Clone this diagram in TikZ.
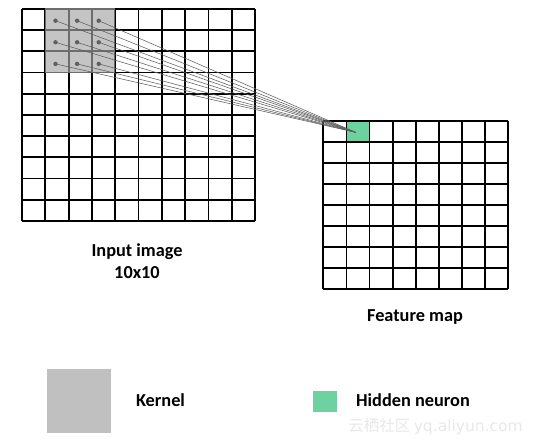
\documentclass[tikz,border=0pt]{standalone}
\usepackage{fontspec}
\setmainfont{Carlito}
\newfontfamily\cjkwm{Noto Sans CJK SC}
\definecolor{kernelgray}{RGB}{166,166,166}
\definecolor{legendgray}{RGB}{192,192,192}
\definecolor{neurongreen}{RGB}{110,210,160}
\definecolor{linkgray}{RGB}{95,95,95}
\definecolor{wmgray}{RGB}{232,232,232}
\begin{document}
\begin{tikzpicture}[x=1pt,y=-1pt,
  gridline/.style={line width=1.8pt,black},
  dotnode/.style={circle,fill=linkgray,draw=none,inner sep=0pt,minimum size=4.4pt},
  link/.style={linkgray,line width=0.55pt},
  lbl/.style={font=\bfseries\fontsize{18.3}{21}\selectfont,anchor=base,inner sep=0pt}]
\useasboundingbox (0,0) rectangle (534,446);
% ---- feature map green cell
\fill[neurongreen] (346.4,120.7) rectangle (369.5,141.7);
% ---- input grid 10x10
\foreach \i in {0,...,10} {
  \draw[gridline] ({22+23.3*\i},9) -- ({22+23.3*\i},221);
  \draw[gridline] (22,{9+21.2*\i}) -- (255,{9+21.2*\i});
}
% ---- feature map grid 8x8
\foreach \i in {0,...,8} {
  \draw[gridline] ({323.3+23.1*\i},120.7) -- ({323.3+23.1*\i},288.7);
  \draw[gridline] (323.3,{120.7+21*\i}) -- (508.1,{120.7+21*\i});
}
% ---- kernel overlay
\fill[kernelgray,fill opacity=0.66] (45.3,8) rectangle (115.2,72.6);
% ---- kernel dots
\foreach \c in {0,1,2} {
  \foreach \r in {0,1,2} {
    \node[dotnode] (d\r\c) at ({55.5+21.6*\c},{20.7+21.6*\r}) {};
  }
}
\coordinate (hn) at (355.5,132.3);
\foreach \c in {0,1,2} {
  \foreach \r in {0,1,2} {
    \draw[link] (d\r\c.center) -- (hn);
  }
}
% ---- labels
\node[lbl] (inlbl) at (137,256) {Input image};
\node[lbl] (insize) at (137,278) {10x10};
\node[lbl] (fmlbl) at (415,321.7) {Feature map};
% ---- legend
\node[fill=legendgray,draw=none,minimum width=64.5pt,minimum height=63.7pt,inner sep=0pt] (kleg) at (78.9,401) {};
\node[lbl] (klbl) at (160.5,406.7) {Kernel};
\node[fill=neurongreen,draw=none,minimum width=24pt,minimum height=21pt,inner sep=0pt] (hleg) at (325.3,401.2) {};
\node[lbl] (hlbl) at (413,406.7) {Hidden neuron};
% ---- watermark
\node[anchor=base,inner sep=0pt,text=wmgray,font=\fontsize{15.5}{17}\selectfont] (wm) at (435.5,431.5) {{\cjkwm 云栖社区} {\fontspec{DejaVu Sans}yq.aliyun.com}};
\end{tikzpicture}
\end{document}
